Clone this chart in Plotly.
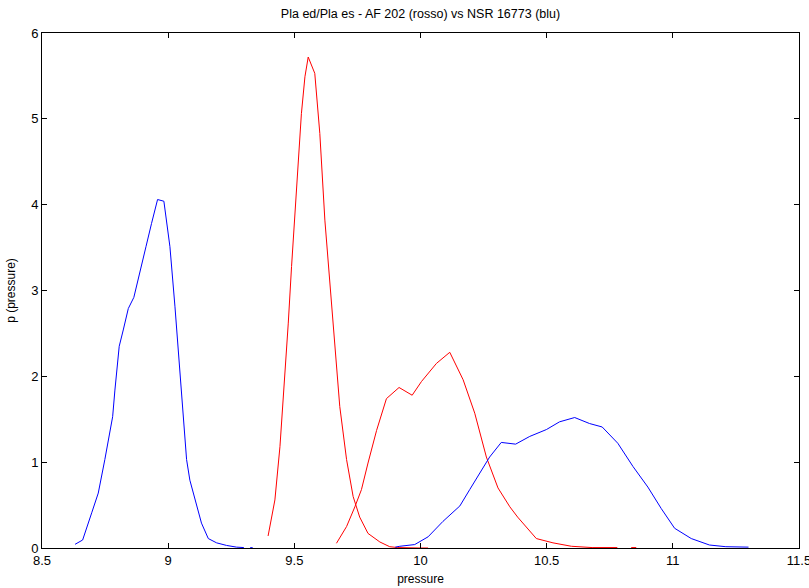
import plotly.graph_objects as go

# Blue (NSR 16773) - first lobe
blue1_x = [8.631, 8.661, 8.697, 8.723, 8.749, 8.780, 8.789, 8.806, 8.822, 8.842, 8.864,
           8.888, 8.912, 8.934, 8.958, 8.983, 9.007, 9.027, 9.044, 9.060, 9.073, 9.086,
           9.113, 9.132, 9.159, 9.192, 9.231, 9.271, 9.300, None, 9.325, 9.335]
blue1_y = [0.043, 0.093, 0.41, 0.64, 1.03, 1.53, 1.84, 2.35, 2.54, 2.79, 2.92,
           3.20, 3.51, 3.78, 4.06, 4.04, 3.51, 2.81, 2.11, 1.49, 1.03, 0.79,
           0.48, 0.29, 0.11, 0.06, 0.03, 0.01, 0.005, None, 0.004, 0.004]

# Red (AF 202) - tall peak
red1_x = [9.396, 9.423, 9.443, 9.462, 9.476, 9.489, 9.502, 9.515, 9.528, 9.542, 9.555,
          9.581, 9.601, 9.621, 9.641, 9.660, 9.680, 9.707, 9.733, 9.759, 9.792, 9.839,
          9.878, 9.910, 9.950, 10.000, 10.030]
red1_y = [0.14, 0.56, 1.18, 1.96, 2.62, 3.28, 3.86, 4.48, 5.06, 5.49, 5.72,
          5.53, 4.83, 3.82, 3.12, 2.42, 1.65, 1.03, 0.60, 0.36, 0.17, 0.07,
          0.015, 0.005, 0.0, 0.0, 0.0]

# Red (AF 202) - second lobe
red2_x = [9.667, 9.707, 9.740, 9.766, 9.792, 9.826, 9.865, 9.915, 9.967, 10.004, 10.063,
          10.116, 10.169, 10.215, 10.261, 10.307, 10.354, 10.385, 10.459, 10.525, 10.598,
          10.680, 10.780, None, 10.835, 10.855]
red2_y = [0.055, 0.25, 0.48, 0.68, 0.99, 1.37, 1.74, 1.87, 1.78, 1.94, 2.15,
          2.28, 1.96, 1.57, 1.06, 0.70, 0.48, 0.36, 0.11, 0.06, 0.02,
          0.005, 0.005, None, 0.005, 0.005]

# Blue (NSR 16773) - second lobe
blue2_x = [9.900, 9.918, 9.977, 10.030, 10.089, 10.156, 10.195, 10.235, 10.274, 10.320,
           10.377, 10.433, 10.499, 10.551, 10.611, 10.670, 10.720, 10.782, 10.842, 10.901,
           10.954, 11.007, 11.073, 11.145, 11.210, 11.300]
blue2_y = [0.01, 0.02, 0.04, 0.13, 0.31, 0.49, 0.68, 0.87, 1.06, 1.23,
           1.21, 1.30, 1.38, 1.47, 1.52, 1.45, 1.41, 1.22, 0.95, 0.71,
           0.46, 0.23, 0.11, 0.035, 0.015, 0.01]

x_ticks = [8.5, 9, 9.5, 10, 10.5, 11, 11.5]
x_tick_labels = ["8.5", "9", "9.5", "10", "10.5", "11", "11.5"]
y_ticks = [0, 1, 2, 3, 4, 5, 6]

fig = go.Figure()
for xs, ys, col in [(blue1_x, blue1_y, "#0000ff"), (red1_x, red1_y, "#ff0000"),
                    (red2_x, red2_y, "#ff0000"), (blue2_x, blue2_y, "#0000ff")]:
    fig.add_trace(go.Scatter(x=xs, y=ys, mode="lines", line=dict(color=col, width=1),
                             connectgaps=False, showlegend=False, hoverinfo="skip"))

fam = "Liberation Sans, Arial, sans-serif"
font = dict(family=fam, size=13, color="black")
title_font = dict(family=fam, size=12, color="black")
fig.update_layout(
    width=809, height=588,
    margin=dict(l=42, r=10, t=33, b=40),
    paper_bgcolor="white", plot_bgcolor="white",
    font=font,
    title=dict(text="Pla ed/Pla es - AF 202 (rosso) vs NSR 16773 (blu)",
               xref="paper", x=0.5, xanchor="center", y=1 - 14 / 588, yanchor="middle",
               font=dict(family=fam, size=12.5, color="black")),
    xaxis=dict(range=[8.5, 11.5], tickvals=x_ticks, ticktext=x_tick_labels,
               ticks="inside", ticklen=5, tickcolor="black", showline=True,
               linecolor="black", linewidth=1, mirror="ticks", showgrid=False,
               zeroline=False, automargin=False,
               title=dict(text="pressure", standoff=8, font=title_font),
               tickfont=font, ticklabeloverflow="allow"),
    yaxis=dict(range=[0, 6], tickvals=y_ticks, ticks="inside", ticklen=5,
               tickcolor="black", showline=True, linecolor="black", linewidth=1,
               mirror="ticks", showgrid=False, zeroline=False, automargin=False,
               title=dict(text="p (pressure)", standoff=12, font=title_font),
               tickfont=font),
)
fig.write_html("out.html")
